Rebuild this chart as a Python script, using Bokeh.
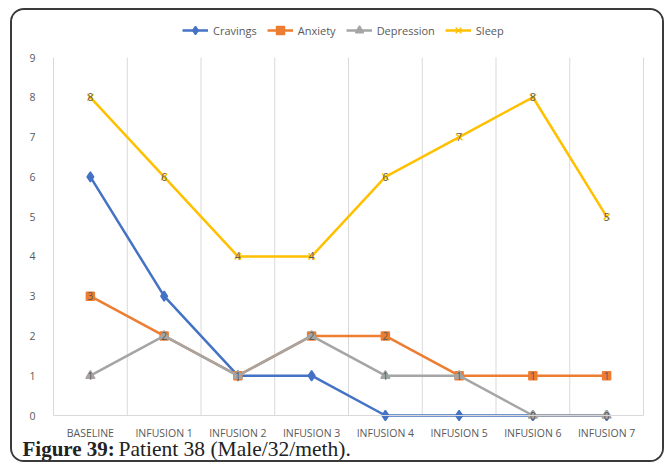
from bokeh.plotting import figure
from bokeh.models import (Range1d, FixedTicker, Legend, LegendItem, Label,
                          ColumnDataSource, LinearAxis)
from bokeh.core.properties import value
from bokeh.embed import file_html
from bokeh.resources import INLINE

categories = ["BASELINE", "INFUSION 1", "INFUSION 2", "INFUSION 3",
              "INFUSION 4", "INFUSION 5", "INFUSION 6", "INFUSION 7"]
cravings = [6, 3, 1, 1, 0, 0, 0, 0]
anxiety = [3, 2, 1, 2, 2, 1, 1, 1]
depression = [1, 2, 1, 2, 1, 1, 0, 0]
sleep = [8, 6, 4, 4, 6, 7, 8, 5]
y_ticks = [0, 1, 2, 3, 4, 5, 6, 7, 8, 9]
caption_bold = "Figure 39:"
caption_rest = "Patient 38 (Male/32/meth)."

# ---- layout constants (pixels on the canvas) ----
W, H = 654, 454
plot_left, plot_width = 41, 590      # category area
plot_zero, plot_height = 405, 358    # y=0 line (from top), height of 0..9

ncat = len(categories)
px_x = plot_width / ncat
px_y = plot_height / (y_ticks[-1] - y_ticks[0])
x0 = -plot_left / px_x
y0 = y_ticks[0] - (H - plot_zero) / px_y

p = figure(width=W, height=H, output_backend="svg", toolbar_location=None,
           x_range=Range1d(x0, x0 + W / px_x), y_range=Range1d(y0, y0 + H / px_y),
           min_border=0, min_border_left=0, min_border_right=0,
           min_border_top=0, min_border_bottom=0,
           x_axis_location=None, y_axis_location=None,
           outline_line_color=None)
p.styles = {"margin-left": "10px", "margin-top": "8px",
            "border": "2px solid #3a3a3a", "border-radius": "14px",
            "overflow": "hidden"}
p.background_fill_color = "white"
p.border_fill_color = "white"
p.xgrid.visible = False
p.ygrid.visible = False

xs = [i + 0.5 for i in range(ncat)]
boundaries = [i for i in range(ncat + 1)]

# vertical gridlines at category boundaries
p.segment(x0=boundaries, y0=[y_ticks[0]] * len(boundaries),
          x1=boundaries, y1=[y_ticks[-1]] * len(boundaries),
          line_color="#d9d9d9", line_width=1)

xa = LinearAxis(fixed_location=y_ticks[0], bounds=(0, ncat))
xa.ticker = FixedTicker(ticks=xs)
xa.major_label_overrides = {x: c for x, c in zip(xs, categories)}
xa.major_tick_line_color = None
xa.minor_tick_line_color = None
xa.axis_line_color = "#d9d9d9"
xa.major_label_text_font = "Open Sans"
xa.major_label_text_font_size = "10.5px"
xa.major_label_text_color = "#595959"
xa.major_label_standoff = 4
p.add_layout(xa, "below")

ya = LinearAxis(fixed_location=0, bounds=(y_ticks[0], y_ticks[-1]))
ya.ticker = FixedTicker(ticks=y_ticks)
ya.major_tick_line_color = None
ya.minor_tick_line_color = None
ya.axis_line_color = None
ya.major_label_text_font = "Open Sans"
ya.major_label_text_font_size = "10.5px"
ya.major_label_text_color = "#595959"
ya.major_label_standoff = 12
p.add_layout(ya, "left")

series = [
    ("Cravings", cravings, "#4472C4", "diamond", 10, False),
    ("Anxiety", anxiety, "#ED7D31", "square", 8, True),
    ("Depression", depression, "#A5A5A5", "triangle", 9, True),
    ("Sleep", sleep, "#FFC000", "x", 9, True),
]

items = []
for name, vals, color, marker, size, labels in series:
    src = ColumnDataSource(dict(x=xs, y=vals, t=[str(v) for v in vals]))
    l = p.line("x", "y", source=src, line_color=color, line_width=2.5)
    m = p.scatter("x", "y", source=src, marker=marker, size=size,
                  fill_color=color, line_color=color, line_width=1.5)
    if labels:
        p.text("x", "y", text="t", source=src, text_align="center",
               text_baseline="middle", text_font=value("Open Sans"),
               text_font_size="10px", text_color="#595959")
    items.append(LegendItem(label=name, renderers=[l, m]))

legend = Legend(items=items, orientation="horizontal", location=(170, H - 30),
                padding=0, margin=0, spacing=10, glyph_width=26,
                label_text_font="Open Sans", label_text_font_size="11px",
                label_text_color="#595959", border_line_color=None,
                background_fill_alpha=0)
p.add_layout(legend, "center")

p.add_layout(Label(x=10, y=4, x_units="screen", y_units="screen",
                   text=caption_bold, text_font="Liberation Serif",
                   text_font_style="bold", text_font_size="21px",
                   text_baseline="bottom", text_color="#222222"))
p.add_layout(Label(x=106, y=4, x_units="screen", y_units="screen",
                   text=caption_rest, text_font="Liberation Serif",
                   text_font_size="21.5px", text_baseline="bottom",
                   text_color="#222222"))

open("out.html", "w").write(file_html(p, INLINE))
